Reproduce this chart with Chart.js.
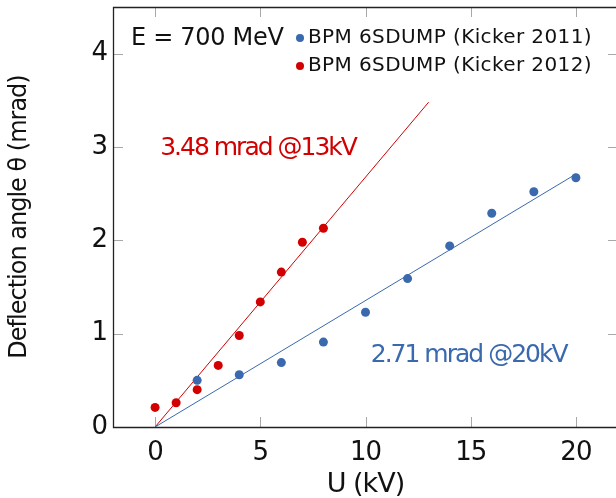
<!DOCTYPE html>
<html>
<head>
<meta charset="utf-8">
<script src="https://cdn.jsdelivr.net/npm/chart.js@4.4.0/dist/chart.umd.min.js"></script>
<style>
  html, body { margin: 0; padding: 0; background: #fff; overflow: hidden; }
  /* plot frame runs just past the right edge of the page */
  #wrap { width: 618px; height: 498px; }
</style>
</head>
<body>
<div id="wrap"><canvas id="chart" width="618" height="498"></canvas></div>
<script>
// ─── DATA ────────────────────────────────────────────────────────────────────
const u2011     = [2, 4, 6, 8, 10, 12, 14, 16, 18, 20];
const theta2011 = [0.50, 0.56, 0.69, 0.91, 1.23, 1.59, 1.94, 2.29, 2.52, 2.67];
const u2012     = [0, 1, 2, 3, 4, 5, 6, 7, 8];
const theta2012 = [0.21, 0.26, 0.40, 0.66, 0.98, 1.34, 1.66, 1.98, 2.13];

// linear fits through the origin: deflection reached at the given voltage
const fit2011 = { u: 20, theta: 2.71 };
const fit2012 = { u: 13, theta: 3.48 };

const xTicks = [0, 5, 10, 15, 20];
const yTicks = [0, 1, 2, 3, 4];
const energyLabel = 'E = 700 MeV';

// ─── STYLE ───────────────────────────────────────────────────────────────────
const BLUE = '#3a69ae';
const RED  = '#d20000';
const FONT = "'DejaVu Sans', sans-serif";
const TICK = 10;

const toPts = (xs, ys) => xs.map((v, i) => ({ x: v, y: ys[i] }));
const fitLine = f => [{ x: 0, y: 0 }, { x: f.u, y: f.theta }];
const fitText = f => `${f.theta.toFixed(2)} mrad @${f.u}kV`;

// fixed axis boxes, no extra room for overhanging labels
const fixBox = (w, h) => s => {
  if (w != null) s.width = w;
  if (h != null) s.height = h;
  s.paddingLeft = s.paddingRight = s.paddingTop = s.paddingBottom = 0;
};

// frame + inward tick marks on all four sides
const framePlugin = {
  id: 'frame',
  beforeDraw(chart) {
    // slightly tighter glyphs for the axis texts
    chart.ctx.letterSpacing = '-1px';
  },
  beforeDatasetsDraw(chart) {
    const { ctx, chartArea: a, scales: { x, y } } = chart;
    ctx.save();
    ctx.strokeStyle = '#a8a8a8';
    ctx.lineWidth = 1;
    ctx.beginPath();
    x.ticks.forEach(t => {
      const px = Math.round(x.getPixelForValue(t.value)) + 0.5;
      ctx.moveTo(px, a.bottom); ctx.lineTo(px, a.bottom - TICK);
      ctx.moveTo(px, a.top);    ctx.lineTo(px, a.top + TICK);
    });
    y.ticks.forEach(t => {
      const py = Math.round(y.getPixelForValue(t.value)) + 0.5;
      ctx.moveTo(a.left, py);  ctx.lineTo(a.left + TICK, py);
      ctx.moveTo(a.right, py); ctx.lineTo(a.right - TICK, py);
    });
    ctx.stroke();

    ctx.strokeStyle = '#222';
    ctx.lineWidth = 1.3;
    ctx.beginPath();
    ctx.moveTo(a.right, a.top + 0.5);
    ctx.lineTo(a.left + 0.5, a.top + 0.5);
    ctx.lineTo(a.left + 0.5, a.bottom + 0.5);
    ctx.lineTo(a.right, a.bottom + 0.5);
    ctx.stroke();
    ctx.restore();
  },
  afterDraw(chart) {
    const { ctx, scales: { x, y } } = chart;
    ctx.save();
    ctx.textBaseline = 'middle';
    ctx.textAlign = 'left';

    // energy tag + legend in the upper corner
    ctx.fillStyle = '#111';
    ctx.font = `24px ${FONT}`;
    ctx.letterSpacing = '-0.3px';
    ctx.fillText(energyLabel, 131, 39);

    ctx.font = `20px ${FONT}`;
    ctx.letterSpacing = '0.4px';
    chart.data.datasets.filter(d => d.legend).forEach((d, i) => {
      const cy = 38 + i * 28;
      ctx.fillStyle = d.backgroundColor;
      ctx.beginPath();
      ctx.arc(300, cy, 4, 0, Math.PI * 2);
      ctx.fill();
      ctx.fillStyle = '#111';
      ctx.fillText(d.label, 308, cy);
    });

    // fit annotations
    ctx.font = `25px ${FONT}`;
    ctx.letterSpacing = '-2px';
    ctx.textBaseline = 'alphabetic';
    ctx.fillStyle = RED;
    ctx.fillText(fitText(fit2012), x.getPixelForValue(0.24), y.getPixelForValue(2.91));
    ctx.fillStyle = BLUE;
    ctx.fillText(fitText(fit2011), x.getPixelForValue(10.25), y.getPixelForValue(0.70));
    ctx.restore();
  }
};

new Chart(document.getElementById('chart'), {
  type: 'scatter',
  data: {
    datasets: [
      {
        label: 'BPM 6SDUMP (Kicker 2011)',
        legend: true,
        data: toPts(u2011, theta2011),
        backgroundColor: BLUE,
        pointRadius: 4.5,
        pointBorderWidth: 0
      },
      {
        label: 'BPM 6SDUMP (Kicker 2012)',
        legend: true,
        data: toPts(u2012, theta2012),
        backgroundColor: RED,
        pointRadius: 4.5,
        pointBorderWidth: 0
      },
      {
        label: 'fit 2011',
        data: fitLine(fit2011),
        showLine: true,
        borderColor: BLUE,
        borderWidth: 1,
        pointRadius: 0
      },
      {
        label: 'fit 2012',
        data: fitLine(fit2012),
        showLine: true,
        borderColor: RED,
        borderWidth: 1,
        pointRadius: 0
      }
    ]
  },
  options: {
    responsive: false,
    animation: false,
    layout: { autoPadding: false, padding: { top: 7, right: 0, left: 0, bottom: 0 } },
    plugins: { legend: { display: false }, tooltip: { enabled: false } },
    scales: {
      x: {
        type: 'linear',
        min: -2, max: 22,
        grid: { display: false, drawTicks: false },
        border: { display: false },
        afterBuildTicks: s => { s.ticks = xTicks.map(v => ({ value: v })); },
        afterFit: fixBox(null, 71),
        ticks: { color: '#111', padding: 11, font: { family: FONT, size: 26 } },
        title: {
          display: true, text: 'U (kV)', color: '#111',
          font: { family: FONT, size: 27, lineHeight: 1 },
          padding: { top: 0, bottom: 0 }
        }
      },
      y: {
        type: 'linear',
        min: 0, max: 4.5,
        grid: { display: false, drawTicks: false },
        border: { display: false },
        afterBuildTicks: s => { s.ticks = yTicks.map(v => ({ value: v })); },
        afterFit: fixBox(113, null),
        ticks: { color: '#111', padding: 6, font: { family: FONT, size: 26 } },
        title: {
          display: true, text: 'Deflection angle θ (mrad)', color: '#111',
          font: { family: FONT, size: 24, lineHeight: 1 },
          padding: { top: 8, bottom: 0 }
        }
      }
    }
  },
  plugins: [framePlugin]
});
</script>
</body>
</html>
